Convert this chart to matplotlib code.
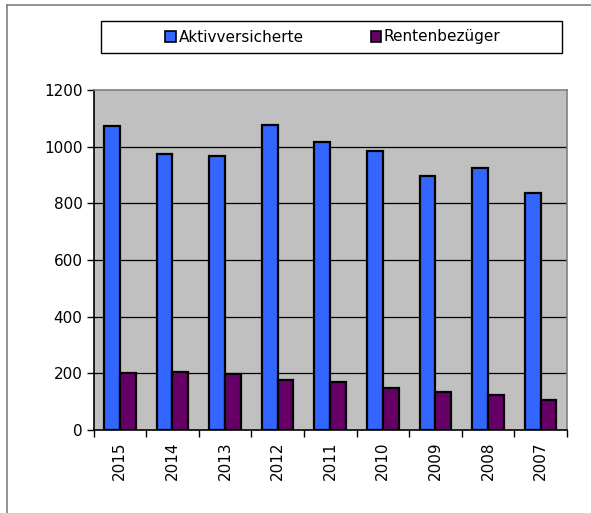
import numpy as np
import matplotlib.pyplot as plt
from matplotlib.lines import Line2D
from matplotlib.patches import Rectangle, Patch

years = ['2015', '2014', '2013', '2012', '2011', '2010', '2009', '2008', '2007']
aktiv = [1073, 974, 968, 1078, 1016, 986, 895, 926, 835]
renten = [201, 205, 196, 178, 168, 149, 135, 125, 105]

W, H = 591, 513
fig = plt.figure(figsize=(W / 100, H / 100), dpi=100)
plt.rcParams['font.family'] = ['DejaVu Sans']

# aeusserer Rahmen (nur links/oben sichtbar)
fig.add_artist(Line2D([7 / W, 7 / W], [0, 1 - 5 / H], color='#808080', lw=1.2))
fig.add_artist(Line2D([7 / W, 1], [1 - 5 / H, 1 - 5 / H], color='#808080', lw=1.2))

ax = fig.add_axes([93.5 / W, 83 / H, (567 - 93.5) / W, 340 / H])
ax.set_facecolor('#C0C0C0')

x = np.arange(len(years))
w = 0.3
ax.bar(x - w / 2, aktiv, w, color='#3366FF', edgecolor='black', linewidth=1.6, zorder=3)
ax.bar(x + w / 2, renten, w, color='#660066', edgecolor='black', linewidth=1.6, zorder=3)

ax.set_xlim(-0.5, len(years) - 0.5)
ax.set_ylim(0, 1200)
ax.set_yticks(range(0, 1201, 200))
ax.tick_params(axis='y', labelsize=11, length=5, width=1, direction='out', pad=3)
for yv in range(200, 1200, 200):
    ax.axhline(yv, color='black', lw=0.9, zorder=1)

ax.set_xticks(np.arange(-0.5, len(years), 1.0))
ax.set_xticklabels([])
ax.tick_params(axis='x', which='major', length=5, width=1, direction='out')
ax.set_xticks(x, minor=True)
ax.set_xticklabels(years, minor=True, rotation=90, fontsize=11)
ax.tick_params(axis='x', which='minor', length=0, pad=8)

ax.spines['left'].set_color('black')
ax.spines['bottom'].set_color('black')
ax.spines['top'].set_color('#808080')
ax.spines['right'].set_color('#808080')
for s in ax.spines.values():
    s.set_linewidth(1.2)

# Legendenbox
fig.add_artist(Rectangle((101 / W, 1 - 53 / H), 461 / W, 32 / H, transform=fig.transFigure,
                         facecolor='white', edgecolor='black', lw=1.0))
handles = [Patch(facecolor='#3366FF', edgecolor='black', lw=1.2, label='Aktivversicherte'),
           Patch(facecolor='#660066', edgecolor='black', lw=1.2, label='Rentenbezüger')]
fig.legend(handles=handles, loc='center', bbox_to_anchor=(333 / W, 1 - 37 / H), ncol=2,
           frameon=False, fontsize=11, handlelength=0.7, handleheight=0.7,
           handletextpad=0.15, columnspacing=4.4)

fig.savefig('out.png', dpi=100)
